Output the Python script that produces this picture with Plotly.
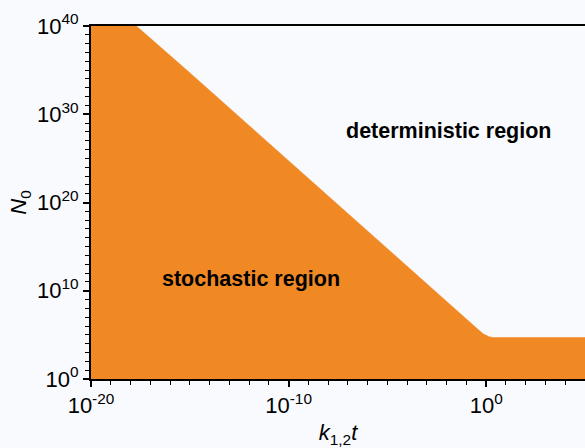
import plotly.graph_objects as go

# Boundary between stochastic and deterministic regions
log_t = [-20, -17.7, -15, -10, -5, -2, -1, -0.6, -0.35, -0.15, 0.0, 0.15, 0.35, 5]
log_n0 = [40, 40, 34.7, 24.7, 14.7, 8.8, 6.8, 6.0, 5.5, 5.12, 4.92, 4.78, 4.7, 4.7]
y_floor = 0  # bottom of the stochastic region (10^0)

x_tick_vals = [1e-20, 1e-10, 1e0]
x_tick_text = ["10<sup>-20</sup>", "10<sup>-10</sup>", "10<sup>0</sup>"]
y_tick_vals = [1e0, 1e10, 1e20, 1e30, 1e40]
y_tick_text = ["10<sup>0</sup>", "10<sup>10</sup>", "10<sup>20</sup>", "10<sup>30</sup>", "10<sup>40</sup>"]

x_vals = [10.0 ** v for v in log_t] + [10.0 ** log_t[-1], 10.0 ** log_t[0]]
y_vals = [10.0 ** v for v in log_n0] + [10.0 ** y_floor, 10.0 ** y_floor]

orange = "rgb(240,136,36)"
font_family = "Liberation Sans, Arial, sans-serif"

fig = go.Figure()
fig.add_trace(go.Scatter(
    x=x_vals, y=y_vals, mode="lines", fill="toself",
    fillcolor=orange, line=dict(color=orange, width=0.5),
    hoverinfo="skip", showlegend=False,
))

fig.update_layout(
    width=585, height=448,
    margin=dict(l=91, r=0, t=26, b=69),
    paper_bgcolor="#f9fafd", plot_bgcolor="#f9fafd",
    font=dict(family=font_family, color="black", size=17),
    showlegend=False,
    xaxis=dict(
        type="log", range=[-20, 5], tickvals=x_tick_vals, ticktext=x_tick_text,
        showgrid=False, zeroline=False,
        showline=True, linecolor="black", linewidth=2, mirror=True,
        ticks="outside", ticklen=6, tickwidth=1.5, tickcolor="black",
        minor=dict(ticks="outside", dtick=1, ticklen=4, tickwidth=1.2, tickcolor="black"),
        tickfont=dict(size=22), ticklabelstandoff=0,
        title=dict(text="<i>k</i><sub>1,2</sub><i>t</i>", font=dict(size=22), standoff=8),
    ),
    yaxis=dict(
        type="log", range=[0, 40], tickvals=y_tick_vals, ticktext=y_tick_text,
        showgrid=False, zeroline=False,
        showline=True, linecolor="black", linewidth=2,
        ticks="outside", ticklen=6, tickwidth=1.5, tickcolor="black",
        minor=dict(ticks="outside", dtick=1, ticklen=4, tickwidth=1.2, tickcolor="black"),
        tickfont=dict(size=22), ticklabelstandoff=0,
        title=dict(text="<i>N</i><sub>0</sub>", font=dict(size=22), standoff=4),
    ),
    annotations=[
        dict(text="<b>stochastic region</b>", xref="paper", yref="paper",
             x=0.324, y=0.283, xanchor="center", yanchor="middle",
             showarrow=False, font=dict(size=21.5)),
        dict(text="<b>deterministic region</b>", xref="paper", yref="paper",
             x=0.725, y=0.703, xanchor="center", yanchor="middle",
             showarrow=False, font=dict(size=21.5)),
    ],
)

fig.write_html("out.html")
